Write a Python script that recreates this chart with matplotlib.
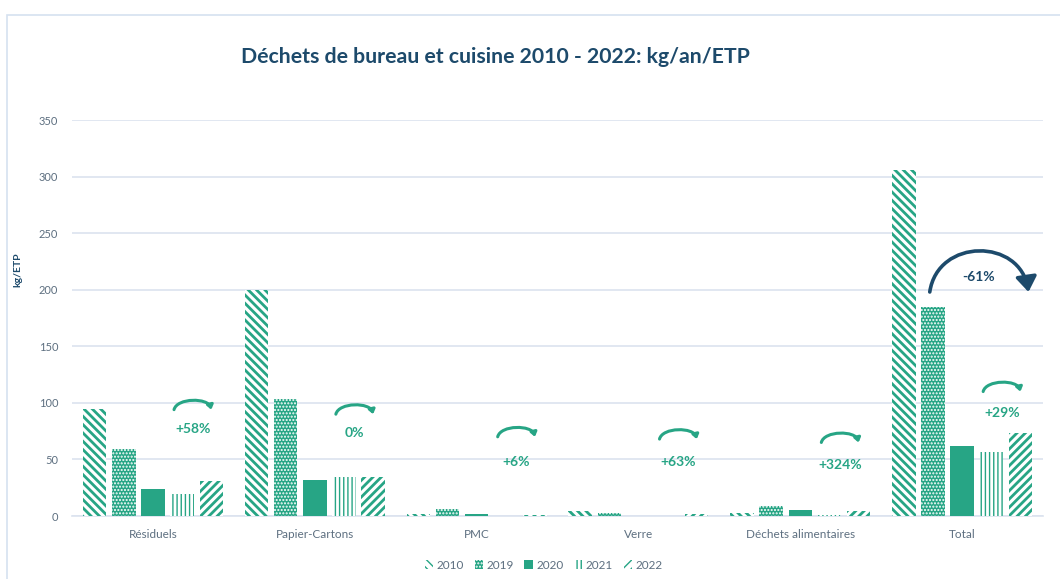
import numpy as np
import matplotlib
matplotlib.use("Agg")
import matplotlib.pyplot as plt
from matplotlib.patches import Rectangle, Patch, FancyArrowPatch
from matplotlib.path import Path

plt.rcParams['font.family'] = ['Lato', 'DejaVu Sans']

# kg per year per FTE, by waste stream
categories = ["Résiduels", "Papier-Cartons", "PMC", "Verre", "Déchets alimentaires", "Total"]
years = ["2010", "2019", "2020", "2021", "2022"]
v2010 = [95, 200, 1.5, 4, 3, 306]
v2019 = [59, 103, 6.5, 3, 9, 185]
v2020 = [24, 32, 2, 0, 5, 62]
v2021 = [19.5, 34.5, 0, 0, 1, 57]
v2022 = [31, 34.5, 0.5, 1.5, 4, 73]
series = [v2010, v2019, v2020, v2021, v2022]

# change 2021 -> 2022 shown above each group, plus 2019 -> 2022 for the total
change_labels = ["+58%", "0%", "+6%", "+63%", "+324%", "+29%"]
total_change_label = "-61%"

teal = "#27a585"
navy = "#1d4a6b"
grey = "#5d6f80"
gridc = "#dbe3ef"

hatches = ["\\\\\\\\", ".....", "", "||||", "////"]
hatch_lw = [2.0, 1.0, 1.0, 1.0, 2.0]


def arch(ax, x0, x1, y0, h, color, lw, head, scale):
    # rounded arch from x0 to x1 with an arrow head at the right end
    k = 0.08 * (x1 - x0)
    verts = [(x0, y0), (x0 + k, y0 + h * 4 / 3), (x1 - k, y0 + h * 4 / 3), (x1, y0)]
    p = Path(verts, [Path.MOVETO, Path.CURVE4, Path.CURVE4, Path.CURVE4])
    a = FancyArrowPatch(path=p, arrowstyle=head, mutation_scale=scale, color=color,
                        lw=lw, transform=ax.transData, zorder=5, capstyle="round")
    ax.add_patch(a)


fig = plt.figure(figsize=(10.6, 5.79), dpi=100)
ax = fig.add_axes([0.068, 0.1088, 0.916, 0.6839])

x = np.arange(len(categories))
pitch = 0.18
width = 0.145
for i, vals in enumerate(series):
    off = (i - 2) * pitch
    if i == 1:
        bars = ax.bar(x + off, vals, width, facecolor=teal, edgecolor="white",
                      hatch=hatches[i], linewidth=0, zorder=3)
    elif hatches[i]:
        bars = ax.bar(x + off, vals, width, facecolor="white", edgecolor=teal,
                      hatch=hatches[i], linewidth=0, zorder=3)
    else:
        bars = ax.bar(x + off, vals, width, color=teal, linewidth=0, zorder=3)
    for b in bars:
        if hasattr(b, "set_hatch_linewidth"):
            b.set_hatch_linewidth(hatch_lw[i])

ax.set_xlim(-0.5, len(categories) - 0.5)
ax.set_ylim(0, 350)
ax.set_yticks(np.arange(0, 351, 50))
ax.yaxis.grid(True, color=gridc, linewidth=1.2)
ax.set_axisbelow(True)
for s in ["top", "right", "left"]:
    ax.spines[s].set_visible(False)
ax.spines["bottom"].set_color(gridc)
ax.spines["bottom"].set_linewidth(1.2)
ax.tick_params(length=0, colors=grey, labelsize=8)
ax.tick_params(axis="y", pad=10)
ax.tick_params(axis="x", pad=9)
ax.set_xticks(x)
ax.set_xticklabels(categories, fontsize=8.5)
fig.text(18 / 1060, 1 - 270 / 579, "kg/ETP", rotation=90, ha="center", va="center",
         fontsize=7.5, fontweight="bold", color=navy)

# small arches with the 2021 -> 2022 change
arc_y = [94, 90, 70, 68, 65, 110]
txt_y = [77, 73, 48, 48, 45, 91]
for i, lab in enumerate(change_labels):
    cx = x[i] + 0.245
    arch(ax, cx - 0.115, cx + 0.115, arc_y[i], 8, teal, 2.2,
         "-|>,head_length=0.4,head_width=0.3", 6)
    ax.text(cx, txt_y[i], lab, ha="center", va="center", color=teal,
            fontsize=10, fontweight="bold", zorder=5)

# big arch 2019 -> 2022 on the total
t = x[-1]
arch(ax, t - 0.2, t + 0.41, 198, 36, navy, 2.6, "-|>,head_length=0.5,head_width=0.35", 18)
ax.text(t + 0.1, 211, total_change_label, ha="center", va="center", color=navy,
        fontsize=10, fontweight="bold", zorder=5)

fig.text(0.467, 0.902, "Déchets de bureau et cuisine 2010 - 2022: kg/an/ETP",
         ha="center", va="center", fontsize=15.3, fontweight="bold", color=navy)

handles = []
for i in range(len(years)):
    if i == 1:
        handles.append(Patch(facecolor=teal, edgecolor="white", hatch=hatches[i], linewidth=0))
    elif hatches[i]:
        handles.append(Patch(facecolor="white", edgecolor=teal, hatch=hatches[i], linewidth=0))
    else:
        handles.append(Patch(facecolor=teal, linewidth=0))
leg = fig.legend(handles, years, loc="center", bbox_to_anchor=(0.513, 0.024), ncol=5,
                 frameon=False, fontsize=8.5, handlelength=0.7, handleheight=0.7,
                 handletextpad=0.3, columnspacing=0.9)
for txt in leg.get_texts():
    txt.set_color(grey)

# light frame around the chart area
fig.patches.append(Rectangle((7 / 1060, -0.1), 1.2, 1 - 15 / 579 + 0.1,
                             transform=fig.transFigure, fill=False,
                             edgecolor="#d6e2f0", linewidth=1.2))

fig.savefig("out.png", dpi=100)
